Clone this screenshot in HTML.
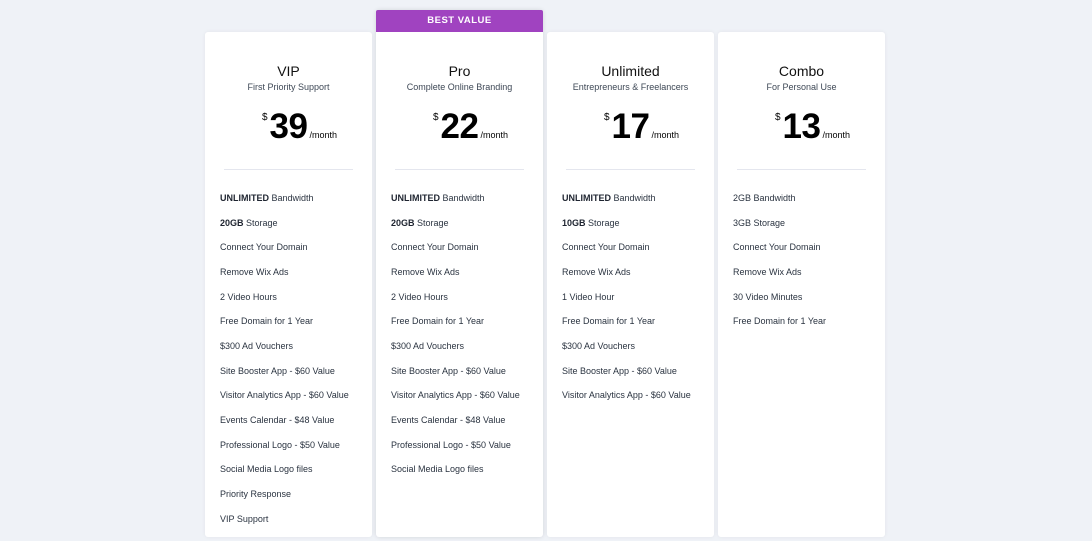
<!DOCTYPE html>
<html><head><meta charset="utf-8"><style>
*{margin:0;padding:0;box-sizing:border-box}
body{width:1092px;height:541px;overflow:hidden;background:#eff2f7;font-family:"Liberation Sans",Arial,sans-serif;position:relative}
.card{position:absolute;top:32px;width:167px;height:505px;background:#fff;border-radius:3px;box-shadow:0 0 4px rgba(0,0,0,.06)}
.pro{top:10px;height:527px;box-shadow:0 0 5px rgba(0,0,0,.12)}
.banner{position:absolute;left:0;top:0;width:167px;height:22px;background:#a043c0;color:#fff;font-size:9.5px;font-weight:bold;letter-spacing:.5px;text-align:center;line-height:22px;border-radius:2px 2px 0 0}
.in{position:absolute;left:0;top:0;width:167px}
.pro .in{top:22px}
.t{position:absolute;top:31px;width:100%;text-align:center;font-size:14px;color:#111}
.s{position:absolute;top:50px;width:100%;text-align:center;font-size:9px;color:#3e4856}
.p{position:absolute;top:75px;width:100%;padding-left:22px;text-align:center;color:#000;white-space:nowrap}
.p .d{font-size:10px;vertical-align:top;position:relative;top:5px;margin-right:2px}
.p .n{font-size:35px;font-weight:bold;letter-spacing:-.5px;line-height:40px}
.p .m{font-size:9px;margin-left:2px}
.hr{position:absolute;top:137px;left:19px;width:129px;height:1px;background:#e4e6ee}
.f{position:absolute;left:15px;font-size:9px;color:#2a3340;white-space:nowrap}
.f b{color:#1e2430}
</style></head><body>
<div class="card" style="left:205px"><div class="in">
<div class="t">VIP</div><div class="s">First Priority Support</div>
<div class="p"><span class="d">$</span><span class="n">39</span><span class="m">/month</span></div><div class="hr"></div>
<div class="f" style="top:161px"><b>UNLIMITED</b> Bandwidth</div>
<div class="f" style="top:186px"><b>20GB</b> Storage</div>
<div class="f" style="top:210px">Connect Your Domain</div>
<div class="f" style="top:235px">Remove Wix Ads</div>
<div class="f" style="top:260px">2 Video Hours</div>
<div class="f" style="top:284px">Free Domain for 1 Year</div>
<div class="f" style="top:309px">$300 Ad Vouchers</div>
<div class="f" style="top:334px">Site Booster App - $60 Value</div>
<div class="f" style="top:358px">Visitor Analytics App - $60 Value</div>
<div class="f" style="top:383px">Events Calendar - $48 Value</div>
<div class="f" style="top:408px">Professional Logo - $50 Value</div>
<div class="f" style="top:432px">Social Media Logo files</div>
<div class="f" style="top:457px">Priority Response</div>
<div class="f" style="top:482px">VIP Support</div>
</div></div>
<div class="card pro" style="left:376px"><div class="banner">BEST VALUE</div><div class="in">
<div class="t">Pro</div><div class="s">Complete Online Branding</div>
<div class="p"><span class="d">$</span><span class="n">22</span><span class="m">/month</span></div><div class="hr"></div>
<div class="f" style="top:161px"><b>UNLIMITED</b> Bandwidth</div>
<div class="f" style="top:186px"><b>20GB</b> Storage</div>
<div class="f" style="top:210px">Connect Your Domain</div>
<div class="f" style="top:235px">Remove Wix Ads</div>
<div class="f" style="top:260px">2 Video Hours</div>
<div class="f" style="top:284px">Free Domain for 1 Year</div>
<div class="f" style="top:309px">$300 Ad Vouchers</div>
<div class="f" style="top:334px">Site Booster App - $60 Value</div>
<div class="f" style="top:358px">Visitor Analytics App - $60 Value</div>
<div class="f" style="top:383px">Events Calendar - $48 Value</div>
<div class="f" style="top:408px">Professional Logo - $50 Value</div>
<div class="f" style="top:432px">Social Media Logo files</div>
</div></div>
<div class="card" style="left:547px"><div class="in">
<div class="t">Unlimited</div><div class="s">Entrepreneurs &amp; Freelancers</div>
<div class="p"><span class="d">$</span><span class="n">17</span><span class="m">/month</span></div><div class="hr"></div>
<div class="f" style="top:161px"><b>UNLIMITED</b> Bandwidth</div>
<div class="f" style="top:186px"><b>10GB</b> Storage</div>
<div class="f" style="top:210px">Connect Your Domain</div>
<div class="f" style="top:235px">Remove Wix Ads</div>
<div class="f" style="top:260px">1 Video Hour</div>
<div class="f" style="top:284px">Free Domain for 1 Year</div>
<div class="f" style="top:309px">$300 Ad Vouchers</div>
<div class="f" style="top:334px">Site Booster App - $60 Value</div>
<div class="f" style="top:358px">Visitor Analytics App - $60 Value</div>
</div></div>
<div class="card" style="left:718px"><div class="in">
<div class="t">Combo</div><div class="s">For Personal Use</div>
<div class="p"><span class="d">$</span><span class="n">13</span><span class="m">/month</span></div><div class="hr"></div>
<div class="f" style="top:161px">2GB Bandwidth</div>
<div class="f" style="top:186px">3GB Storage</div>
<div class="f" style="top:210px">Connect Your Domain</div>
<div class="f" style="top:235px">Remove Wix Ads</div>
<div class="f" style="top:260px">30 Video Minutes</div>
<div class="f" style="top:284px">Free Domain for 1 Year</div>
</div></div>
</body></html>
